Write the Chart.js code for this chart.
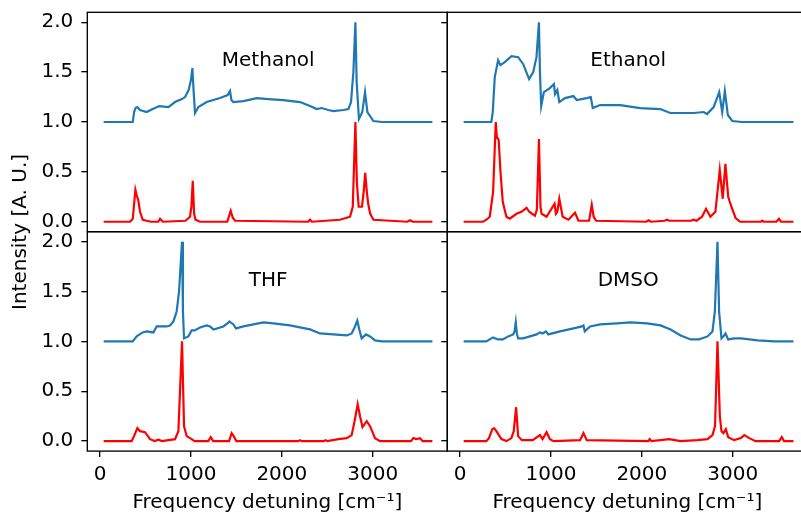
<!DOCTYPE html>
<html>
<head>
<meta charset="utf-8">
<script src="https://cdn.jsdelivr.net/npm/chart.js@4"></script>
<style>
  html, body { margin: 0; padding: 0; overflow: hidden; background: #fff; width: 801px; height: 518px; }
  canvas { position: absolute; }
  #ylabel {
    position: absolute; left: 19px; top: 232px;
    transform: translate(-50%, -50%) rotate(-90deg);
    font: 20px "DejaVu Sans"; color: #000; white-space: nowrap;
  }
</style>
</head>
<body>
<canvas id="tl" width="448" height="240" style="left:0;top:0"></canvas>
<canvas id="tr" width="367" height="240" style="left:441px;top:0"></canvas>
<canvas id="bl" width="448" height="294" style="left:0;top:224px"></canvas>
<canvas id="br" width="367" height="294" style="left:441px;top:224px"></canvas>
<div id="ylabel">Intensity [A. U.]</div>
<script>
// axes
const xTicks = [0, 1000, 2000, 3000];
const yTicks = [0, 0.5, 1, 1.5, 2];
const xMin = -140, xMax = 3820;
const yMin = -0.1, yMax = 2.1;
const xTitle = 'Frequency detuning [cm⁻¹]';

// solvent names, written inside each panel
const panelNames = ['Methanol', 'Ethanol', 'THF', 'DMSO'];
const nameX = 1850, nameY = 1.61;

// Methanol
const methanolBlueX = [40, 360, 375, 390, 411, 440, 513, 580, 652, 752, 825, 900, 935, 975, 1000, 1016, 1030, 1045, 1082, 1173, 1320, 1404, 1430, 1445, 1466, 1577, 1724, 1850, 2017, 2200, 2310, 2383, 2438, 2511, 2566, 2676, 2732, 2761, 2787, 2809, 2823, 2848, 2885, 2915, 2941, 3007, 3100, 3656];
const methanolBlueY = [1.0, 1.0, 1.1, 1.14, 1.15, 1.12, 1.10, 1.13, 1.16, 1.15, 1.2, 1.23, 1.25, 1.32, 1.42, 1.54, 1.3, 1.09, 1.15, 1.2, 1.24, 1.27, 1.31, 1.22, 1.2, 1.21, 1.24, 1.23, 1.22, 1.2, 1.16, 1.13, 1.14, 1.12, 1.11, 1.12, 1.13, 1.2, 1.5, 2.0, 1.4, 1.03, 1.1, 1.3, 1.1, 1.01, 1.0, 1.0];
const methanolRedX = [40, 330, 360, 389, 405, 420, 440, 470, 513, 560, 640, 660, 690, 940, 990, 1005, 1020, 1035, 1050, 1100, 1400, 1437, 1460, 1485, 2290, 2310, 2330, 2640, 2750, 2780, 2809, 2825, 2845, 2881, 2900, 2917, 2935, 2950, 2972, 3008, 3380, 3410, 3440, 3656];
const methanolRedY = [0, 0, 0.03, 0.32, 0.26, 0.22, 0.1, 0.02, 0.01, 0, 0, 0.03, 0, 0.01, 0.05, 0.15, 0.41, 0.08, 0.02, 0, 0, 0.11, 0.04, 0.01, 0, 0.02, 0, 0.02, 0.05, 0.15, 1.0, 0.4, 0.15, 0.15, 0.3, 0.49, 0.3, 0.18, 0.08, 0.02, 0, 0.015, 0, 0];

// Ethanol
const ethanolBlueX = [40, 345, 360, 382, 419, 445, 492, 566, 640, 695, 760, 805, 841, 868, 879, 893, 922, 988, 1033, 1045, 1070, 1092, 1155, 1247, 1284, 1394, 1438, 1460, 1541, 1762, 1982, 2203, 2313, 2570, 2680, 2717, 2790, 2851, 2884, 2913, 2946, 2994, 3100, 3668];
const ethanolBlueY = [1.0, 1.0, 1.1, 1.45, 1.62, 1.57, 1.6, 1.66, 1.65, 1.58, 1.43, 1.5, 1.65, 2.0, 1.5, 1.16, 1.3, 1.34, 1.38, 1.28, 1.32, 1.2, 1.24, 1.26, 1.22, 1.24, 1.25, 1.14, 1.17, 1.17, 1.14, 1.13, 1.09, 1.09, 1.1, 1.08, 1.15, 1.3, 1.1, 1.31, 1.07, 1.01, 1.0, 1.0];
const ethanolRedX = [40, 253, 290, 327, 364, 393, 405, 425, 445, 470, 510, 548, 621, 676, 732, 761, 824, 845, 868, 885, 897, 952, 1040, 1055, 1070, 1092, 1129, 1192, 1265, 1302, 1420, 1449, 1470, 1497, 2050, 2074, 2100, 2250, 2276, 2300, 2540, 2570, 2600, 2662, 2706, 2754, 2809, 2857, 2890, 2919, 2950, 2967, 2986, 3030, 3080, 3310, 3324, 3340, 3480, 3508, 3530, 3668];
const ethanolRedY = [0, 0, 0.02, 0.05, 0.3, 1.0, 0.85, 0.82, 0.5, 0.2, 0.05, 0.03, 0.08, 0.1, 0.14, 0.1, 0.06, 0.12, 0.83, 0.15, 0.08, 0.05, 0.18, 0.08, 0.1, 0.23, 0.05, 0.02, 0.09, 0.01, 0.01, 0.17, 0.05, 0.01, 0, 0.015, 0, 0.01, 0.02, 0.01, 0.01, 0.02, 0.01, 0.05, 0.13, 0.05, 0.1, 0.52, 0.23, 0.58, 0.25, 0.2, 0.15, 0.04, 0, 0, 0.01, 0, 0, 0.03, 0, 0];

// THF
const thfBlueX = [40, 360, 403, 469, 513, 587, 623, 733, 770, 807, 843, 869, 902, 912, 924, 971, 1008, 1040, 1100, 1173, 1210, 1247, 1357, 1401, 1423, 1467, 1496, 1577, 1687, 1797, 1907, 2090, 2200, 2310, 2420, 2566, 2713, 2768, 2805, 2830, 2852, 2878, 2926, 2970, 3025, 3100, 3656];
const thfBlueY = [1.0, 1.0, 1.05, 1.09, 1.1, 1.09, 1.15, 1.15, 1.16, 1.2, 1.3, 1.5, 2.0, 1.3, 1.03, 1.05, 1.11, 1.11, 1.14, 1.16, 1.15, 1.12, 1.15, 1.18, 1.2, 1.17, 1.13, 1.15, 1.17, 1.19, 1.18, 1.16, 1.14, 1.12, 1.08, 1.07, 1.06, 1.08, 1.15, 1.21, 1.12, 1.03, 1.07, 1.05, 1.01, 1.0, 1.0];
const thfRedX = [40, 348, 374, 411, 440, 495, 550, 600, 642, 680, 825, 862, 902, 924, 953, 1008, 1040, 1190, 1218, 1245, 1420, 1448, 1470, 1500, 2180, 2200, 2220, 2460, 2480, 2500, 2622, 2713, 2768, 2800, 2834, 2860, 2887, 2934, 2970, 3025, 3080, 3420, 3446, 3480, 3520, 3550, 3656];
const thfRedY = [0, 0, 0.05, 0.13, 0.1, 0.09, 0.02, 0, 0.015, 0, 0.02, 0.1, 1.0, 0.15, 0.05, 0.02, 0, 0, 0.04, 0, 0, 0.08, 0.05, 0, 0, 0.01, 0, 0, 0.01, 0, 0.02, 0.03, 0.06, 0.2, 0.37, 0.25, 0.14, 0.2, 0.15, 0.03, 0, 0, 0.03, 0.02, 0.03, 0, 0];

// DMSO
const dmsoBlueX = [40, 289, 326, 363, 418, 473, 529, 584, 600, 613, 625, 639, 694, 768, 842, 879, 908, 945, 971, 1100, 1248, 1340, 1358, 1372, 1431, 1542, 1726, 1874, 2058, 2206, 2316, 2427, 2537, 2630, 2722, 2777, 2803, 2832, 2850, 2876, 2898, 2920, 2950, 3016, 3090, 3274, 3458, 3668];
const dmsoBlueY = [1.0, 1.0, 1.02, 1.04, 1.02, 1.02, 1.05, 1.07, 1.1, 1.19, 1.08, 1.03, 1.03, 1.05, 1.07, 1.09, 1.08, 1.1, 1.07, 1.1, 1.13, 1.15, 1.16, 1.1, 1.15, 1.17, 1.18, 1.19, 1.18, 1.16, 1.12, 1.06, 1.02, 1.02, 1.05, 1.1, 1.3, 2.0, 1.3, 1.03, 1.05, 1.08, 1.02, 1.03, 1.03, 1.01, 1.0, 1.0];
const dmsoRedX = [40, 289, 318, 355, 374, 400, 455, 510, 565, 591, 617, 639, 680, 800, 879, 908, 952, 989, 1030, 1320, 1358, 1394, 2070, 2087, 2104, 2206, 2298, 2427, 2611, 2722, 2777, 2805, 2832, 2858, 2876, 2898, 2924, 2950, 3016, 3090, 3127, 3182, 3250, 3510, 3539, 3565, 3668];
const dmsoRedY = [0, 0, 0.03, 0.12, 0.13, 0.1, 0.02, 0, 0.03, 0.1, 0.34, 0.05, 0.01, 0.01, 0.06, 0.02, 0.09, 0.02, 0, 0.01, 0.08, 0.01, 0, 0.02, 0, 0.01, 0.02, 0, 0.01, 0.02, 0.06, 0.15, 1.0, 0.25, 0.1, 0.08, 0.12, 0.04, 0.01, 0.03, 0.06, 0.03, 0, 0, 0.04, 0, 0];

Chart.defaults.font.family = '"DejaVu Sans"';
Chart.defaults.font.size = 20;
Chart.defaults.color = '#000';

function pts(xs, ys) {
  return xs.map((x, i) => ({ x: x, y: ys[i] }));
}

// box around the plot area + the solvent name
const frame = {
  id: 'frame',
  afterDraw(chart, args, opts) {
    const a = chart.chartArea;
    const ctx = chart.ctx;
    ctx.save();
    ctx.strokeStyle = '#000';
    ctx.lineWidth = 1.33;
    ctx.strokeRect(a.left, a.top, a.right - a.left, a.bottom - a.top);
    ctx.font = '20px "DejaVu Sans"';
    ctx.fillStyle = '#000';
    ctx.textAlign = 'center';
    ctx.textBaseline = 'middle';
    ctx.fillText(opts.name, chart.scales.x.getPixelForValue(nameX), chart.scales.y.getPixelForValue(nameY));
    ctx.restore();
  }
};

function noPadding(s) {
  s.paddingTop = 0; s.paddingBottom = 0; s.paddingLeft = 0; s.paddingRight = 0;
}

function makeChart(id, name, blueX, blueY, redX, redY, cfg) {
  return new Chart(document.getElementById(id), {
    type: 'line',
    data: {
      datasets: [
        { data: pts(blueX, blueY), borderColor: '#1f77b4', borderWidth: 2.2, pointRadius: 0, tension: 0 },
        { data: pts(redX, redY), borderColor: '#ff0000', borderWidth: 2.2, pointRadius: 0, tension: 0 },
      ],
    },
    plugins: [frame],
    options: {
      responsive: false,
      animation: false,
      devicePixelRatio: 1,
      layout: { padding: cfg.padding },
      plugins: {
        legend: { display: false },
        tooltip: { enabled: false },
        frame: { name: name },
      },
      scales: {
        x: {
          type: 'linear',
          min: xMin,
          max: xMax,
          display: cfg.showX,
          afterBuildTicks: s => { s.ticks = xTicks.map(v => ({ value: v })); },
          afterFit: s => { noPadding(s); if (cfg.showX) s.height = cfg.xHeight; },
          grid: { drawOnChartArea: false, tickLength: 6, color: '#000', lineWidth: 1.33 },
          border: { display: false },
          ticks: { padding: 6, maxRotation: 0, autoSkip: false, callback: v => String(v) },
          title: { display: true, text: xTitle, padding: { top: 0, bottom: 3 } },
        },
        y: {
          min: yMin,
          max: yMax,
          afterBuildTicks: s => { s.ticks = yTicks.map(v => ({ value: v })); },
          afterFit: s => { noPadding(s); s.width = cfg.yWidth; },
          grid: { drawOnChartArea: false, tickLength: 6, color: '#000', lineWidth: 1.33 },
          border: { display: false },
          ticks: {
            display: cfg.showYLabels,
            padding: 8,
            callback: v => v.toFixed(1),
          },
        },
      },
    },
  });
}

makeChart('tl', panelNames[0], methanolBlueX, methanolBlueY, methanolRedX, methanolRedY,
  { showX: false, yWidth: 87.3, showYLabels: true, padding: { left: 0, top: 12.3, right: 0.7, bottom: 8.3 } });
makeChart('tr', panelNames[1], ethanolBlueX, ethanolBlueY, ethanolRedX, ethanolRedY,
  { showX: false, yWidth: 6.3, showYLabels: false, padding: { left: 0, top: 12.3, right: 0.7, bottom: 8.3 } });
makeChart('bl', panelNames[2], thfBlueX, thfBlueY, thfRedX, thfRedY,
  { showX: true, xHeight: 66.9, yWidth: 87.3, showYLabels: true, padding: { left: 0, top: 7.7, right: 0.7, bottom: 0 } });
makeChart('br', panelNames[3], dmsoBlueX, dmsoBlueY, dmsoRedX, dmsoRedY,
  { showX: true, xHeight: 66.9, yWidth: 6.3, showYLabels: false, padding: { left: 0, top: 7.7, right: 0.7, bottom: 0 } });
</script>
</body>
</html>
